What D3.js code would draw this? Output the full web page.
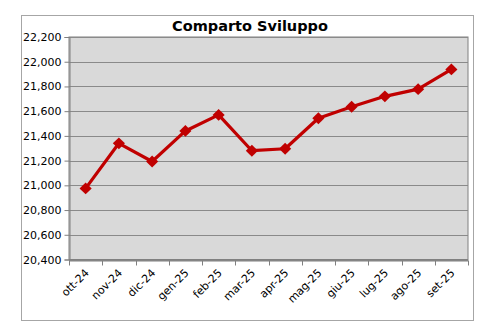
<!DOCTYPE html>
<html>
  <head>
    <meta http-equiv="Content-Type" content="text/html;charset=utf-8">
    <title>Comparto Sviluppo</title>
    <script src="https://d3js.org/d3.v7.min.js"></script>
    <style>
      html, body {
        margin: 0;
        padding: 0;
        background: #fff;
      }
      text {
        font-family: "DejaVu Sans", Verdana, sans-serif;
        fill: #000;
      }
    </style>
  </head>
  <body>
    <script type="text/javascript">

var months = ["ott-24", "nov-24", "dic-24", "gen-25", "feb-25", "mar-25",
              "apr-25", "mag-25", "giu-25", "lug-25", "ago-25", "set-25"];
var values = [20975, 21340, 21193, 21440, 21570, 21280,
              21296, 21543, 21636, 21720, 21778, 21938];
var yTicks = [20400, 20600, 20800, 21000, 21200, 21400, 21600, 21800, 22000, 22200];

var W = 485, H = 334;
var plotL = 69, plotR = 468, plotT = 37, plotB = 259.5;

var svg = d3.select("body").append("svg")
    .attr("width", W)
    .attr("height", H);

// outer frame
svg.append("rect")
    .attr("x", 21.5).attr("y", 15.5)
    .attr("width", 452).attr("height", 305)
    .attr("fill", "#fff")
    .attr("stroke", "#a6a6a6");

svg.append("text")
    .attr("x", 250)
    .attr("y", 31)
    .attr("text-anchor", "middle")
    .style("font-size", "14.5px")
    .style("font-weight", "bold")
    .text("Comparto Sviluppo");

var x = d3.scaleBand().domain(months).range([plotL, plotR]);
var y = d3.scaleLinear().domain([20400, 22200]).range([plotB, plotT]);

svg.append("rect")
    .attr("x", plotL).attr("y", plotT)
    .attr("width", plotR - plotL).attr("height", plotB - plotT)
    .attr("fill", "#d9d9d9")
    .attr("stroke", "#808080");

// gridlines
svg.append("g")
  .selectAll("line")
  .data(yTicks)
  .enter().append("line")
    .attr("x1", plotL).attr("x2", plotR)
    .attr("y1", function(d) { return Math.round(y(d)) + 0.5; })
    .attr("y2", function(d) { return Math.round(y(d)) + 0.5; })
    .attr("stroke", "#8a8a8a")
    .attr("stroke-width", 1.2);

var yAxis = svg.append("g")
    .attr("transform", "translate(" + (plotL + 0.5) + ",0)")
    .call(d3.axisLeft(y).tickValues(yTicks).tickFormat(d3.format(",")).tickSizeOuter(0).tickSize(5).tickPadding(3));
yAxis.selectAll("text").style("font-size", "11px").style("font-family", "'DejaVu Sans', Verdana, sans-serif");
yAxis.select(".domain").attr("stroke", "#808080");
yAxis.selectAll(".tick line").attr("stroke", "#808080");

var xAxis = svg.append("g")
    .attr("transform", "translate(0," + (Math.round(plotB) + 0.5) + ")")
    .call(d3.axisBottom(x).tickSize(0).tickSizeOuter(0));
xAxis.select(".domain").attr("stroke", "#808080");
xAxis.selectAll(".tick text")
    .style("font-size", "11px")
    .style("font-family", "'DejaVu Sans', Verdana, sans-serif")
    .attr("text-anchor", "end")
    .attr("dy", null)
    .attr("y", 0)
    .attr("transform", "translate(4,13) rotate(-45)");

// tick marks between categories
xAxis.append("g")
  .selectAll("line")
  .data(months.concat(["end"]))
  .enter().append("line")
    .attr("x1", function(d, i) { return Math.round(plotL + i * x.step()) + 0.5; })
    .attr("x2", function(d, i) { return Math.round(plotL + i * x.step()) + 0.5; })
    .attr("y1", 0).attr("y2", 5)
    .attr("stroke", "#808080");

var line = d3.line()
    .x(function(d, i) { return x(months[i]) + x.bandwidth() / 2; })
    .y(function(d) { return y(d); });

svg.append("path")
    .datum(values)
    .attr("d", line)
    .attr("fill", "none")
    .attr("stroke", "#c00000")
    .attr("stroke-width", 3.2)
    .attr("stroke-linejoin", "round");

svg.append("g")
  .selectAll("path")
  .data(values)
  .enter().append("path")
    .attr("d", d3.symbol().type(d3.symbolDiamond).size(50))
    .attr("transform", function(d, i) {
      return "translate(" + (x(months[i]) + x.bandwidth() / 2) + "," + y(d) + ") scale(1.6,0.9)";
    })
    .attr("fill", "#c00000");

    </script>
  </body>
</html>
